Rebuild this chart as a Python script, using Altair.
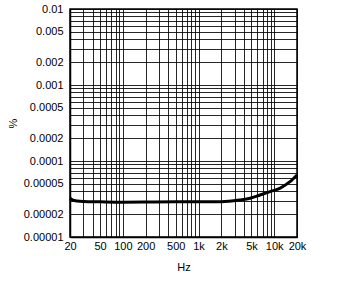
import altair as alt
import pandas as pd

# curve data
freq = [20, 22, 25, 30, 50, 100, 200, 500, 1000, 2000, 3500, 4800, 6500,
        8800, 12000, 16000, 20000]
thd = [3.25e-5, 3.05e-5, 2.97e-5, 2.93e-5, 2.9e-5, 2.87e-5, 2.88e-5, 2.9e-5,
       2.9e-5, 2.91e-5, 3.07e-5, 3.23e-5, 3.57e-5, 3.95e-5, 4.4e-5, 5.3e-5,
       6.55e-5]

# grid positions
x_grid = [20, 30, 40, 50, 60, 70, 80, 90,
          100, 200, 300, 400, 500, 600, 700, 800, 900,
          1000, 2000, 3000, 4000, 5000, 6000, 7000, 8000, 9000,
          10000, 20000]
y_grid = [1e-05, 2e-05, 3e-05, 4e-05, 5e-05, 6e-05, 7e-05, 8e-05, 9e-05,
          0.0001, 0.0002, 0.0003, 0.0004, 0.0005, 0.0006, 0.0007, 0.0008, 0.0009,
          0.001, 0.002, 0.003, 0.004, 0.005, 0.006, 0.007, 0.008, 0.009, 0.01]

# tick labels
x_labels = {20: "20", 50: "50", 100: "100", 200: "200", 500: "500",
            1000: "1k", 2000: "2k", 5000: "5k", 10000: "10k", 20000: "20k"}
y_labels = {1e-05: "0.00001", 2e-05: "0.00002", 5e-05: "0.00005",
            0.0001: "0.0001", 0.0002: "0.0002", 0.0005: "0.0005",
            0.001: "0.001", 0.002: "0.002", 0.005: "0.005", 0.01: "0.01"}


def label_expr(mapping):
    expr = "''"
    for v, t in reversed(list(mapping.items())):
        expr = f"datum.value == {v!r} ? '{t}' : ({expr})"
    return expr


df = pd.DataFrame({"f": freq, "v": thd})

FONT = "Liberation Sans"

chart = alt.Chart(df).mark_line(
    color="black", strokeWidth=3, interpolate="monotone"
).encode(
    x=alt.X("f:Q", scale=alt.Scale(type="log", domain=[20, 20000], nice=False),
            axis=alt.Axis(values=x_grid, labelExpr=label_expr(x_labels),
                          title="Hz", ticks=False, grid=True,
                          labelPadding=3, titlePadding=10,
                          labelFlush=False, labelOverlap=False)),
    y=alt.Y("v:Q", scale=alt.Scale(type="log", domain=[1e-05, 0.01], nice=False),
            axis=alt.Axis(values=y_grid, labelExpr=label_expr(y_labels),
                          title="%", ticks=False, grid=True,
                          labelPadding=7, titlePadding=5,
                          labelFlush=False, labelOverlap=False)),
).properties(
    width=227, height=228,
    padding={"left": 70, "top": 9, "right": 46, "bottom": 44},
    autosize="none",
).configure_axis(
    gridColor="black", gridOpacity=0.85, gridWidth=1,
    domainColor="black", domainWidth=1.5,
    labelFont=FONT, labelFontSize=11, labelColor="black",
    titleFont=FONT, titleFontSize=11, titleColor="black", titleFontWeight="normal",
).configure_view(stroke="black", strokeWidth=1.5)

chart.save("out.html", embed_options={"renderer": "svg", "actions": False})
